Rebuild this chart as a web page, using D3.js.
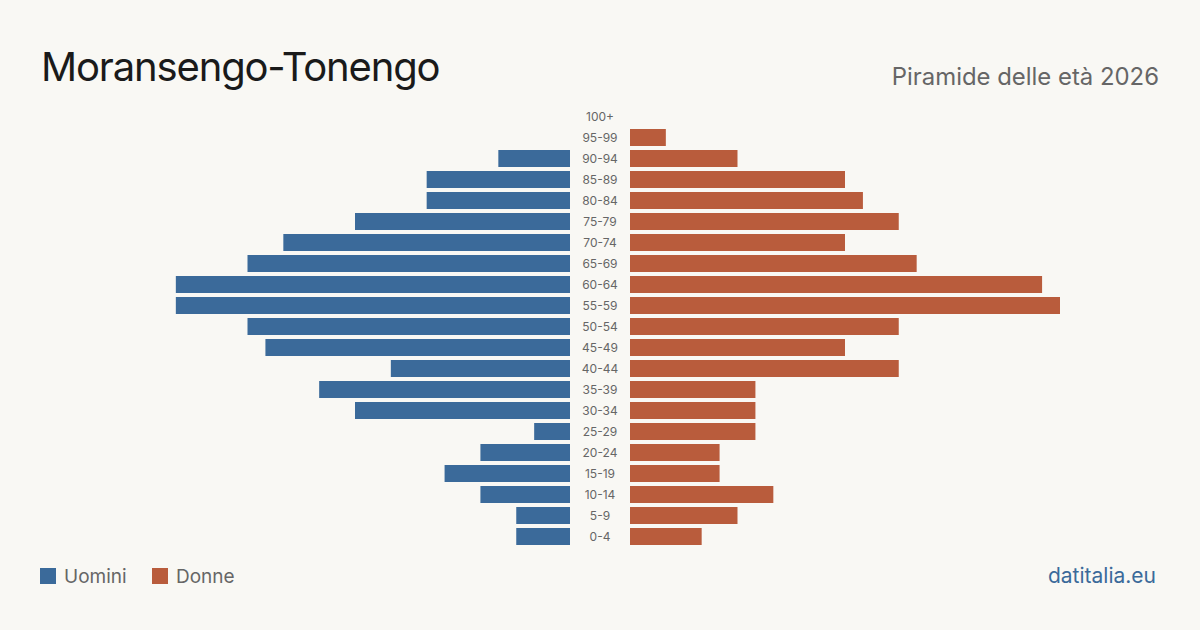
<!DOCTYPE html>
<html><head><meta charset="utf-8">
<script src="https://cdn.jsdelivr.net/npm/d3@7"></script>
<style>
html,body{margin:0;padding:0;background:#f9f8f4;}
svg{display:block;font-family:Inter,"Noto Sans",sans-serif;}
</style></head>
<body>
<svg id="chart" width="1200" height="630"></svg>
<script>
const ageGroups = ["0-4","5-9","10-14","15-19","20-24","25-29","30-34","35-39","40-44","45-49","50-54","55-59","60-64","65-69","70-74","75-79","80-84","85-89","90-94","95-99","100+"];
const men   = [3,3,5,7,5,2,12,14,10,17,18,22,22,18,16,12,8,8,4,0,0];
const women = [4,6,8,5,5,7,7,7,15,12,15,24,23,16,12,15,13,12,6,2,0];
const seriesNames = ["Uomini","Donne"];
const colors = ["#3b6a9a","#b95c3c"];
const title = "Moransengo-Tonengo";
const subtitle = "Piramide delle età 2026";
const source = "datitalia.eu";

const svg = d3.select("#chart");
svg.append("rect").attr("width",1200).attr("height",630).attr("fill","#f9f8f4");

const y = d3.scaleBand().domain(ageGroups.slice().reverse()).range([106,547])
  .paddingInner(4/21).paddingOuter(2/21);
const maxV = d3.max([...men,...women]);
const x = d3.scaleLinear().domain([0,maxV]).range([0,430]);
const leftEdge = 570, rightEdge = 630, center = 600;

svg.append("g").selectAll("rect").data(ageGroups).join("rect")
  .attr("x",(d,i)=>leftEdge - x(men[i])).attr("y",d=>y(d))
  .attr("width",(d,i)=>x(men[i])).attr("height",y.bandwidth()).attr("fill",colors[0]);
svg.append("g").selectAll("rect").data(ageGroups).join("rect")
  .attr("x",rightEdge).attr("y",d=>y(d))
  .attr("width",(d,i)=>x(women[i])).attr("height",y.bandwidth()).attr("fill",colors[1]);

svg.append("g").selectAll("text").data(ageGroups).join("text")
  .attr("x",center).attr("y",d=>y(d)+y.bandwidth()/2).attr("dy","0.35em")
  .attr("text-anchor","middle").attr("font-size",12).attr("fill","#666").text(d=>d);

svg.append("text").attr("x",41).attr("y",81).attr("font-size",40).attr("letter-spacing",-1.15)
  .attr("fill","#1a1a1a").text(title);
svg.append("text").attr("x",1159).attr("y",85).attr("text-anchor","end").attr("font-size",23.9).attr("fill","#666").text(subtitle);

const leg = svg.append("g");
const legX = [40,152];
seriesNames.forEach((n,i)=>{
  leg.append("rect").attr("x",legX[i]).attr("y",568).attr("width",16).attr("height",16).attr("fill",colors[i]);
  leg.append("text").attr("x",legX[i]+24).attr("y",583).attr("font-size",19).attr("fill","#666").text(n);
});
svg.append("text").attr("x",1156).attr("y",583).attr("text-anchor","end").attr("font-size",21).attr("fill","#3b6a9a").text(source);
</script>
</body></html>
